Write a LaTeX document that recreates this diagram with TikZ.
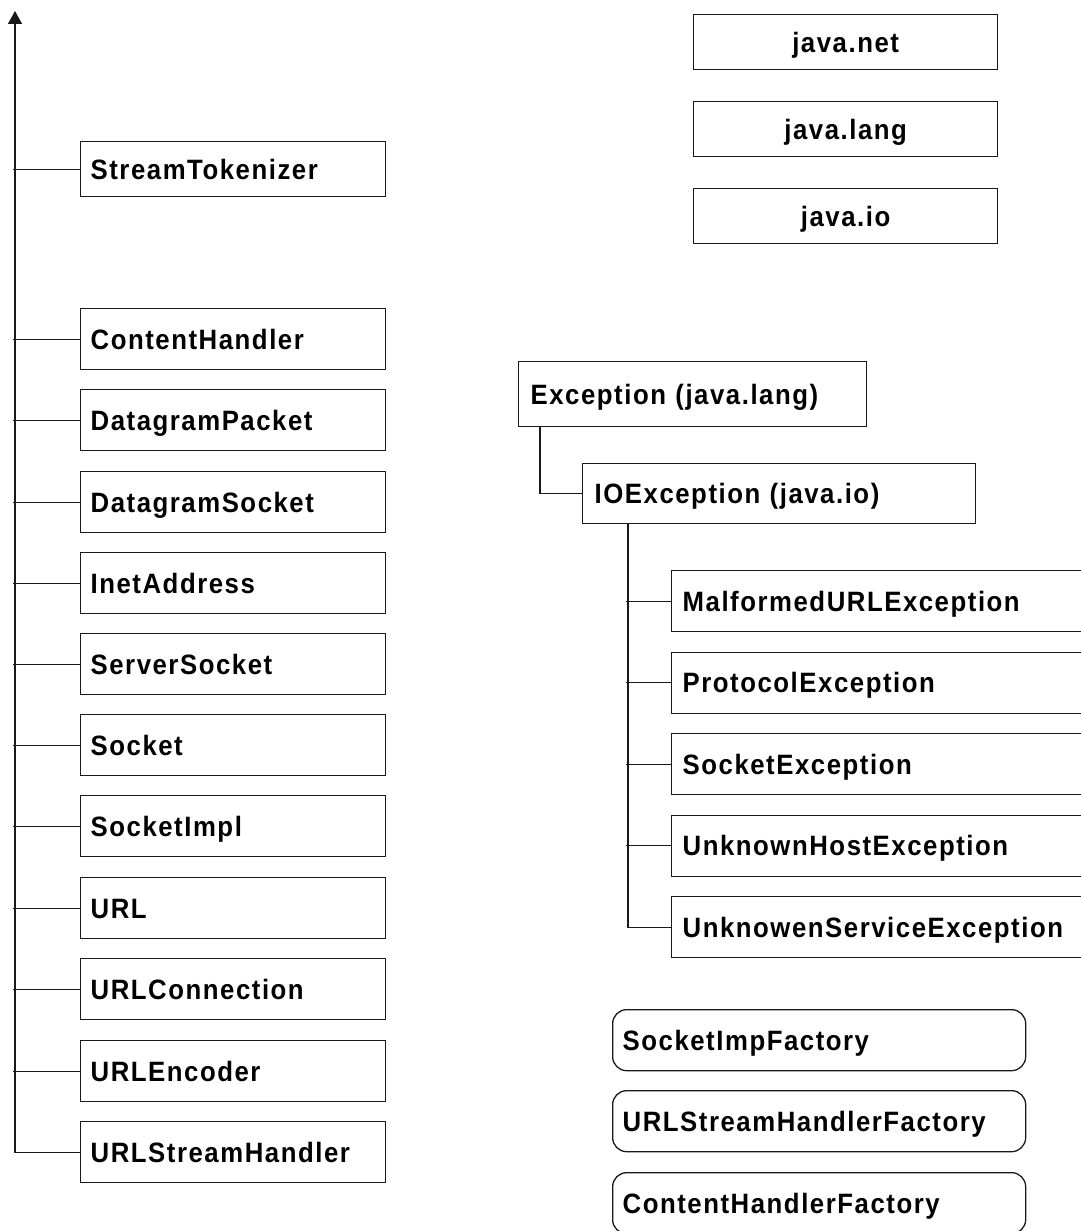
\documentclass[tikz,border=0pt]{standalone}
\usepackage{fontspec}
\setmainfont{Liberation Sans}[LetterSpace=5.5, FakeStretch=0.92]
\usetikzlibrary{arrows.meta}
\begin{document}
\begin{tikzpicture}[x=1pt,y=-1pt,
  cell/.style={draw=black!90, line width=1.3pt, rectangle, inner ysep=0pt,
    minimum height=61pt, text height=20pt, text depth=0pt,
    font=\fontsize{28}{32}\selectfont\bfseries, anchor=north west},
  lcell/.style={cell, inner xsep=10pt, text width=285pt, align=left},
  pkgcell/.style={cell, inner xsep=10pt, text width=284pt, align=center, minimum height=55pt},
  excell/.style={cell, inner xsep=12pt, text width=324pt, align=left, minimum height=65pt},
  ioecell/.style={cell, inner xsep=12pt, text width=369pt, align=left, minimum height=60pt},
  subcell/.style={cell, inner xsep=11pt, text width=420pt, align=left},
  rcell/.style={cell, rounded corners=14pt, inner xsep=10pt, text width=393pt, align=left},
  conn/.style={draw=black!90, line width=1.3pt}
]
\useasboundingbox (0,0) rectangle (1080,1231);

% left column
\node[lcell, minimum height=55pt] (st) at (80,141) {StreamTokenizer};
\node[lcell] (ch)  at (80,308)  {ContentHandler};
\node[lcell] (dp)  at (80,389)  {DatagramPacket};
\node[lcell] (ds)  at (80,471)  {DatagramSocket};
\node[lcell] (ia)  at (80,552)  {InetAddress};
\node[lcell] (ss)  at (80,633)  {ServerSocket};
\node[lcell] (so)  at (80,714)  {Socket};
\node[lcell] (si)  at (80,795)  {SocketImpl};
\node[lcell] (url) at (80,877)  {URL};
\node[lcell] (uc)  at (80,958)  {URLConnection};
\node[lcell] (ue)  at (80,1040) {URLEncoder};
\node[lcell] (ush) at (80,1121) {URLStreamHandler};

\coordinate (ltop) at (15,11);
\draw[conn, -{Triangle[length=13pt,width=14pt]}] (ush.west) -| (ltop);
\foreach \n in {st,ch,dp,ds,ia,ss,so,si,url,uc,ue}
  \draw[conn] (\n.west) -- ([xshift=-2pt]\n.west -| ltop);

% packages
\node[pkgcell] (jnet)  at (693,14)  {java.net};
\node[pkgcell] (jlang) at (693,101) {java.lang};
\node[pkgcell] (jio)   at (693,188) {java.io};

% exceptions
\node[excell] (exc) at (518,361) {Exception (java.lang)};
\node[ioecell] (ioe) at (582,463) {IOException (java.io)};
\draw[conn] ([xshift=22pt]exc.south west) |- (ioe.west);

\node[subcell] (mue) at (671,570)   {MalformedURLException};
\node[subcell] (pe)  at (671,651.5) {ProtocolException};
\node[subcell] (se)  at (671,733)   {SocketException};
\node[subcell] (uhe) at (671,814.5) {UnknownHostException};
\node[subcell] (use) at (671,896)   {UnknowenServiceException};

\coordinate (iot) at ([xshift=46pt]ioe.south west);
\draw[conn] (iot) |- (use.west);
\foreach \n in {mue,pe,se,uhe}
  \draw[conn] (\n.west) -- ([xshift=-2pt]\n.west -| iot);

% factories
\node[rcell] (sif)  at (612,1009) {SocketImpFactory};
\node[rcell] (ushf) at (612,1090) {URLStreamHandlerFactory};
\node[rcell] (chf)  at (612,1172) {ContentHandlerFactory};
\end{tikzpicture}
\end{document}
